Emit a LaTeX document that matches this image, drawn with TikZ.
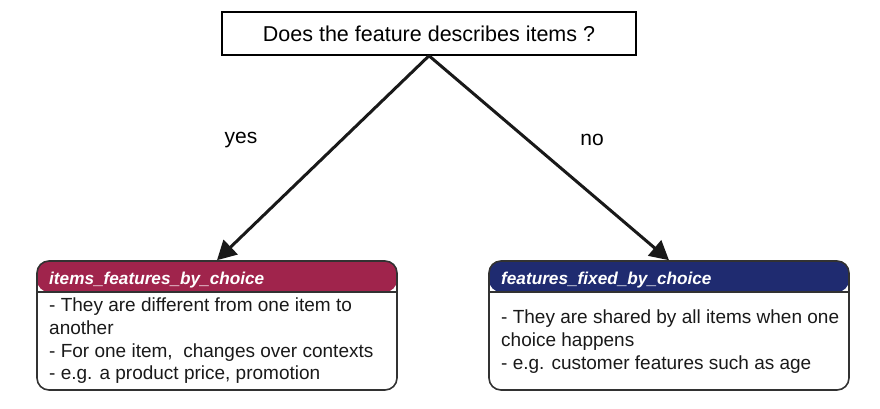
\documentclass[tikz,border=0pt]{standalone}
\usepackage{fontspec}
\setmainfont{Liberation Sans}
\usetikzlibrary{arrows.meta}
\definecolor{crim}{RGB}{160,36,76}
\definecolor{navy}{RGB}{31,43,112}
\definecolor{edge}{RGB}{50,50,50}
\tikzset{
  qbox/.style={draw=black, line width=1.5pt, minimum width=414pt, minimum height=43pt, inner sep=0pt, font=\fontsize{21.5}{25}\selectfont},
  catbox/.style={draw=edge, line width=1.6pt, rounded corners=12pt, minimum width=360pt, minimum height=129pt, inner sep=0pt,
    path picture={\fill[#1] (path picture bounding box.north west) rectangle ([yshift=-31pt]path picture bounding box.north east);
      \draw[edge, line width=1.2pt] ([yshift=-31pt]path picture bounding box.north west) -- ([yshift=-31pt]path picture bounding box.north east);}},
  headtxt/.style={anchor=west, text=white, font=\fontsize{17.2}{20}\selectfont\bfseries\itshape, inner sep=0pt},
  bodytxt/.style={anchor=north west, align=left, inner sep=0pt, font=\fontsize{19}{22.6}\selectfont, text=black!90},
  lbl/.style={font=\fontsize{21}{25}\selectfont, inner sep=0pt},
  arr/.style={line width=3pt, -{Triangle[length=19pt,width=20pt]}, black!90}
}
\begin{document}
\begin{tikzpicture}[x=1pt,y=-1pt]
\useasboundingbox (0,0) rectangle (880,408);
\node[qbox] (q) at (429,33.5) {Does the feature describes items ?};
\node[catbox=crim] (L) at (217,325.5) {};
\node[catbox=navy] (R) at (669,325.5) {};
\node[headtxt] (Lh) at (49,280) {items\_features\_by\_choice};
\node[headtxt] (Rh) at (501,280) {features\_fixed\_by\_choice};
\node[bodytxt] (Lb) at (49,298) {- They are different from one item to\\another\\- For one item,\ \ changes over contexts\\- e.g. a product price, promotion};
\node[bodytxt] (Rb) at (501,310) {- They are shared by all items when one\\choice happens\\- e.g. customer features such as age};
\draw[arr] (q.south) -- (L.north);
\draw[arr] (q.south) -- (R.north);
\node[lbl] (yes) at (241,140) {yes};
\node[lbl] (no) at (592,140) {no};
\end{tikzpicture}
\end{document}
